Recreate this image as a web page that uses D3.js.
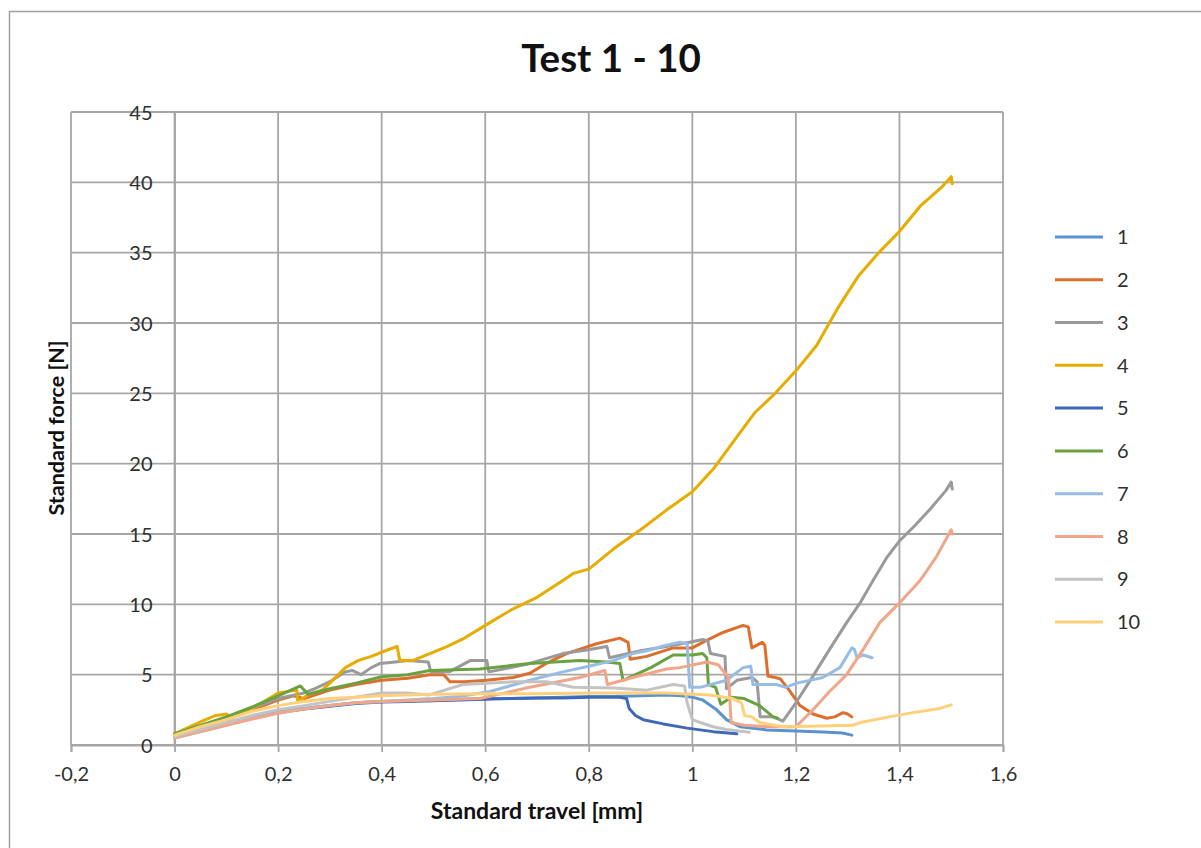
<!DOCTYPE html>
<html>
<head>
<meta charset="utf-8">
<script src="https://cdn.jsdelivr.net/npm/d3@7"></script>
<style>
  html, body { margin: 0; padding: 0; background: #ffffff; }
  svg { display: block; }
  text { font-family: Lato, "Open Sans", "DejaVu Sans", sans-serif; }
</style>
</head>
<body>
<svg id="chart" width="1201" height="848"></svg>
<script>
// Force–travel curves for tests 1 to 10: [travel mm, force N]
const test1 = [[0,0.6],[0.05,1.1],[0.1,1.6],[0.15,2.0],[0.2,2.35],[0.25,2.6],[0.3,2.8],[0.35,3.0],[0.4,3.1],[0.45,3.15],[0.5,3.2],[0.55,3.25],[0.6,3.3],[0.65,3.3],[0.7,3.35],[0.75,3.4],[0.8,3.45],[0.85,3.45],[0.9,3.5],[0.95,3.55],[0.98,3.5],[1.0,3.4],[1.02,3.2],[1.047,2.5],[1.066,1.8],[1.092,1.3],[1.144,1.07],[1.2,1.0],[1.252,0.92],[1.29,0.85],[1.308,0.7]];
const test2 = [[0,0.7],[0.05,1.3],[0.1,1.8],[0.15,2.5],[0.2,3.2],[0.23,3.5],[0.25,3.3],[0.3,3.9],[0.35,4.3],[0.4,4.6],[0.45,4.75],[0.493,5.0],[0.52,5.0],[0.532,4.5],[0.56,4.5],[0.603,4.6],[0.654,4.8],[0.686,5.1],[0.718,5.8],[0.757,6.5],[0.815,7.2],[0.86,7.6],[0.876,7.3],[0.88,6.1],[0.912,6.3],[0.963,6.9],[1.0,6.9],[1.02,7.3],[1.059,8.0],[1.098,8.5],[1.108,8.4],[1.115,6.9],[1.135,7.3],[1.14,7.1],[1.146,4.9],[1.16,4.8],[1.17,4.7],[1.185,4.0],[1.208,2.8],[1.233,2.2],[1.26,1.9],[1.275,2.0],[1.291,2.3],[1.3,2.2],[1.308,2.0]];
const test3 = [[0,0.7],[0.05,1.3],[0.1,1.9],[0.15,2.6],[0.2,3.3],[0.25,3.7],[0.271,4.0],[0.3,4.5],[0.33,5.2],[0.343,5.3],[0.36,5.0],[0.38,5.5],[0.397,5.8],[0.426,5.9],[0.45,6.0],[0.49,5.9],[0.495,5.2],[0.53,5.2],[0.571,6.0],[0.603,6.0],[0.607,5.2],[0.65,5.5],[0.686,5.8],[0.75,6.5],[0.796,6.75],[0.835,7.0],[0.84,6.2],[0.9,6.7],[0.95,7.0],[0.995,7.3],[1.02,7.5],[1.03,7.4],[1.035,6.5],[1.063,6.3],[1.066,4.0],[1.086,4.6],[1.115,4.8],[1.125,4.5],[1.131,2.0],[1.156,2.0],[1.175,1.7],[1.2,3.0],[1.233,4.9],[1.265,6.8],[1.298,8.7],[1.324,10.1],[1.349,11.7],[1.375,13.3],[1.4,14.5],[1.43,15.6],[1.46,16.8],[1.49,18.1],[1.5,18.7],[1.502,18.2]];
const test4 = [[0,0.8],[0.03,1.3],[0.06,1.8],[0.08,2.1],[0.1,2.2],[0.11,2.0],[0.13,2.3],[0.16,2.8],[0.2,3.7],[0.236,3.9],[0.238,3.1],[0.242,3.2],[0.26,3.6],[0.285,3.9],[0.3,4.4],[0.33,5.5],[0.354,6.0],[0.38,6.3],[0.407,6.7],[0.43,7.0],[0.435,6.0],[0.46,6.0],[0.5,6.6],[0.526,7.0],[0.56,7.6],[0.609,8.7],[0.65,9.6],[0.7,10.5],[0.75,11.7],[0.77,12.2],[0.8,12.5],[0.85,14.0],[0.9,15.3],[0.95,16.7],[1.0,18.0],[1.04,19.6],[1.08,21.6],[1.12,23.6],[1.16,25.0],[1.2,26.6],[1.24,28.4],[1.28,31.0],[1.32,33.3],[1.36,35.0],[1.4,36.5],[1.44,38.3],[1.48,39.6],[1.5,40.4],[1.502,39.9]];
const test5 = [[0,0.55],[0.05,1.05],[0.1,1.55],[0.15,1.95],[0.2,2.3],[0.25,2.55],[0.3,2.75],[0.35,2.95],[0.4,3.05],[0.45,3.1],[0.5,3.15],[0.55,3.2],[0.6,3.25],[0.65,3.3],[0.7,3.35],[0.75,3.35],[0.8,3.4],[0.86,3.4],[0.873,3.3],[0.878,2.6],[0.89,2.1],[0.905,1.8],[0.944,1.5],[0.99,1.2],[1.04,0.95],[1.086,0.8]];
const test6 = [[0,0.8],[0.05,1.4],[0.1,2.0],[0.15,2.7],[0.2,3.5],[0.243,4.2],[0.258,3.6],[0.3,4.0],[0.35,4.4],[0.4,4.85],[0.45,5.0],[0.493,5.3],[0.59,5.4],[0.686,5.8],[0.783,6.0],[0.835,5.9],[0.86,5.8],[0.866,4.6],[0.92,5.5],[0.963,6.4],[1.0,6.4],[1.02,6.5],[1.028,6.2],[1.031,4.3],[1.045,4.1],[1.055,2.9],[1.075,3.4],[1.1,3.3],[1.13,2.8],[1.156,2.0],[1.165,1.9]];
const test7 = [[0,0.5],[0.05,0.95],[0.1,1.4],[0.15,1.9],[0.2,2.3],[0.25,2.6],[0.3,2.8],[0.35,3.0],[0.4,3.1],[0.45,3.2],[0.5,3.3],[0.55,3.45],[0.609,3.8],[0.686,4.6],[0.75,5.2],[0.8,5.6],[0.847,6.0],[0.885,6.5],[0.912,6.7],[0.95,7.1],[0.976,7.3],[0.99,7.2],[0.995,4.1],[1.015,4.1],[1.066,4.6],[1.098,5.5],[1.113,5.6],[1.117,4.3],[1.163,4.3],[1.18,4.1],[1.202,4.4],[1.252,4.8],[1.285,5.5],[1.308,6.9],[1.313,6.8],[1.318,6.2],[1.33,6.4],[1.347,6.2]];
const test8 = [[0,0.5],[0.05,0.95],[0.1,1.4],[0.15,1.85],[0.2,2.25],[0.25,2.55],[0.3,2.8],[0.35,3.0],[0.4,3.1],[0.45,3.15],[0.5,3.2],[0.59,3.3],[0.686,4.1],[0.783,4.8],[0.831,5.3],[0.836,4.3],[0.885,4.8],[0.95,5.4],[0.976,5.5],[1.028,5.9],[1.05,5.7],[1.07,4.8],[1.075,1.6],[1.1,1.4],[1.15,1.3],[1.2,1.3],[1.233,2.5],[1.265,3.8],[1.298,5.0],[1.33,6.8],[1.362,8.7],[1.4,10.1],[1.44,11.7],[1.47,13.3],[1.5,15.3],[1.502,15.0]];
const test9 = [[0,0.6],[0.05,1.1],[0.1,1.6],[0.15,2.1],[0.2,2.5],[0.25,2.8],[0.3,3.1],[0.35,3.4],[0.4,3.7],[0.45,3.7],[0.49,3.55],[0.557,4.3],[0.654,4.5],[0.718,4.5],[0.77,4.1],[0.85,4.05],[0.912,3.9],[0.963,4.3],[0.985,4.2],[0.99,3.0],[1.0,1.8],[1.015,1.6],[1.04,1.3],[1.066,1.1],[1.11,0.9]];
const test10 = [[0,0.7],[0.05,1.3],[0.1,1.8],[0.15,2.4],[0.2,2.8],[0.25,3.1],[0.3,3.3],[0.35,3.4],[0.4,3.5],[0.5,3.6],[0.6,3.65],[0.7,3.65],[0.8,3.7],[0.9,3.7],[0.95,3.7],[1.034,3.55],[1.078,3.3],[1.095,3.0],[1.101,2.1],[1.115,2.0],[1.13,1.6],[1.175,1.3],[1.25,1.35],[1.31,1.4],[1.325,1.6],[1.38,2.0],[1.426,2.3],[1.478,2.6],[1.5,2.85]];

const seriesNames = ["1","2","3","4","5","6","7","8","9","10"];
const seriesData = [test1, test2, test3, test4, test5, test6, test7, test8, test9, test10];
const seriesColors = ["#5b93cf","#dd6f2c","#9a9a9a","#e6ac00","#3f69b8","#6aa242","#97bde4","#f1a68a","#c3c3c3","#ffd07c"];

const xTicks = [-0.2, 0, 0.2, 0.4, 0.6, 0.8, 1, 1.2, 1.4, 1.6];
const xTickLabels = ["-0,2","0","0,2","0,4","0,6","0,8","1","1,2","1,4","1,6"];
const yTicks = [0, 5, 10, 15, 20, 25, 30, 35, 40, 45];
const yTickLabels = ["0","5","10","15","20","25","30","35","40","45"];

const chartTitle = "Test 1 - 10";
const xTitle = "Standard travel [mm]";
const yTitle = "Standard force [N]";

const svg = d3.select("#chart");

// outer chart frame
svg.append("rect")
  .attr("x", 9.5).attr("y", 11.5)
  .attr("width", 1200).attr("height", 900)
  .attr("fill", "none").attr("stroke", "#a0a0a0").attr("stroke-width", 1.5);

const plot = { left: 71, right: 1003, top: 112, bottom: 745 };
const x = d3.scaleLinear().domain([-0.2, 1.6]).range([plot.left, plot.right]);
const y = d3.scaleLinear().domain([0, 45]).range([plot.bottom, plot.top]);

const gridColor = "#a6a6a6";

// gridlines
svg.append("g").selectAll("line").data(xTicks).join("line")
  .attr("x1", d => x(d)).attr("x2", d => x(d))
  .attr("y1", plot.top).attr("y2", plot.bottom)
  .attr("stroke", gridColor).attr("stroke-width", 1.8);
svg.append("g").selectAll("line").data(yTicks).join("line")
  .attr("x1", plot.left).attr("x2", plot.right)
  .attr("y1", d => y(d)).attr("y2", d => y(d))
  .attr("stroke", gridColor).attr("stroke-width", 1.8);

// x axis: ticks hang below, labels with decimal comma
const xAxis = svg.append("g")
  .attr("transform", `translate(0,${plot.bottom})`)
  .call(d3.axisBottom(x).tickValues(xTicks)
    .tickFormat((d, i) => xTickLabels[i]).tickSize(7).tickPadding(12));
xAxis.select(".domain").attr("stroke", gridColor).attr("stroke-width", 1.8);
xAxis.selectAll(".tick line").attr("stroke", gridColor).attr("stroke-width", 1.8);
xAxis.selectAll(".tick text")
  .attr("font-size", 20).attr("fill", "#303030")
  .attr("y", 36).attr("dy", 0);

// y axis sits at travel = 0
const yAxis = svg.append("g")
  .attr("transform", `translate(${x(0)},0)`)
  .call(d3.axisLeft(y).tickValues(yTicks)
    .tickFormat((d, i) => yTickLabels[i]).tickSize(0).tickPadding(22));
yAxis.select(".domain").attr("stroke", gridColor).attr("stroke-width", 1.8);
yAxis.selectAll(".tick text")
  .attr("font-size", 20).attr("fill", "#303030")
  .attr("dy", "0.36em");

// curves
const line = d3.line().x(d => x(d[0])).y(d => y(d[1]));
svg.append("g").selectAll("path").data(seriesData).join("path")
  .attr("d", d => line(d))
  .attr("fill", "none")
  .attr("stroke", (d, i) => seriesColors[i])
  .attr("stroke-width", 3)
  .attr("stroke-linejoin", "round")
  .attr("stroke-linecap", "round");

// titles
svg.append("text")
  .attr("x", 611).attr("y", 72)
  .attr("text-anchor", "middle")
  .attr("font-size", 38.5).attr("font-weight", "bold").attr("fill", "#111")
  .text(chartTitle);
svg.append("text")
  .attr("x", 537).attr("y", 819)
  .attr("text-anchor", "middle")
  .attr("font-size", 23).attr("font-weight", "bold").attr("fill", "#111")
  .text(xTitle);
svg.append("text")
  .attr("transform", "translate(64,428) rotate(-90)")
  .attr("text-anchor", "middle")
  .attr("font-size", 21.5).attr("font-weight", "bold").attr("fill", "#111")
  .text(yTitle);

// legend
const legendY = d3.scalePoint().domain(seriesNames).range([237, 622]);
const legend = svg.append("g").selectAll("g").data(seriesNames).join("g")
  .attr("transform", d => `translate(0,${legendY(d)})`);
legend.append("line")
  .attr("x1", 1055).attr("x2", 1103)
  .attr("stroke", (d, i) => seriesColors[i]).attr("stroke-width", 3);
legend.append("text")
  .attr("x", 1117).attr("dy", "0.36em")
  .attr("font-size", 20).attr("fill", "#303030")
  .text(d => d);
</script>
</body>
</html>
